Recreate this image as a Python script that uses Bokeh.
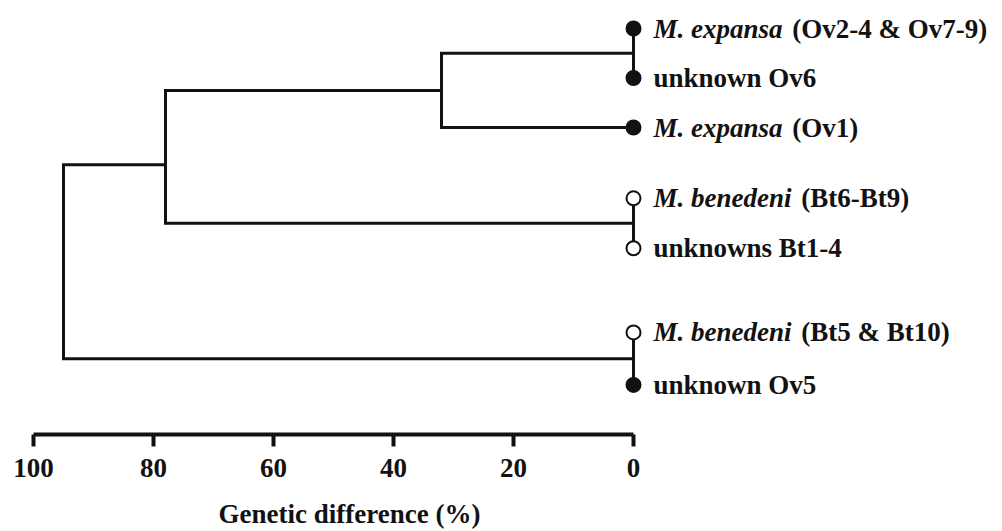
from bokeh.plotting import figure
from bokeh.layouts import column
from bokeh.models import Range1d, FixedTicker, ColumnDataSource
from bokeh.core.properties import value
from bokeh.embed import file_html
from bokeh.resources import INLINE

# ---------------- data ----------------
leaf_species = ["M. expansa", "", "M. expansa", "M. benedeni", "", "M. benedeni", ""]
leaf_detail = ["(Ov2-4 & Ov7-9)", "unknown Ov6", "(Ov1)", "(Bt6-Bt9)",
               "unknowns Bt1-4", "(Bt5 & Bt10)", "unknown Ov5"]
leaf_filled = [True, True, True, False, False, False, True]
# merges: leaves are nodes 0..6, each merge creates node 7, 8, ...
merge_left = [0, 7, 3, 8, 5, 10]
merge_right = [1, 2, 4, 9, 6, 11]
merge_dist = [0, 32, 0, 78, 0, 95]          # genetic difference (%)
tick_values = [100, 80, 60, 40, 20, 0]
axis_title = "Genetic difference (%)"

# ---------------- layout ----------------
leaf_row = [0, 1, 2, 3.43, 4.44, 6.14, 7.2]   # vertical slots of the leaves
node_nudge = {10: 0.16}                       # small vertical shift of a node
W = 1002
H_TREE, H_TITLE = 490, 41
FRAME_H = 434
PX_PER_PCT = 6.0
LEFT_PAD = 33.0
ROW_PX = 49.5
TOP_PAD = 28.0
FONT = "Liberation Serif"
FS = 27
INK = "#121212"

x_start = 100 + LEFT_PAD / PX_PER_PCT
x_end = x_start - W / PX_PER_PCT
y_top = -TOP_PAD / ROW_PX
y_bottom = y_top + FRAME_H / ROW_PX

p = figure(width=W, height=H_TREE, output_backend="svg", toolbar_location=None,
           x_range=Range1d(x_start, x_end), y_range=Range1d(y_bottom, y_top),
           y_axis_location=None, min_border_left=0, min_border_right=0,
           min_border_top=0, min_border_bottom=H_TREE - FRAME_H)
p.grid.visible = False
p.outline_line_color = None
p.background_fill_color = "white"
p.border_fill_color = "white"

# ---------------- tree ----------------
node_x = [0.0] * len(leaf_row)
node_y = list(leaf_row)
xs, ys = [], []
for a, b, d in zip(merge_left, merge_right, merge_dist):
    xs.append([node_x[a], d, d, node_x[b]])
    ys.append([node_y[a], node_y[a], node_y[b], node_y[b]])
    node_x.append(d)
    k = len(node_y)
    node_y.append((node_y[a] + node_y[b]) / 2 + node_nudge.get(k, 0))

p.multi_line(xs=xs, ys=ys, line_width=3, line_color=INK, line_join="miter")

leaf_src = ColumnDataSource(dict(
    x=[0] * len(leaf_row), y=leaf_row,
    fill=[INK if f else "white" for f in leaf_filled],
    sp=leaf_species, de=leaf_detail,
))
p.scatter("x", "y", source=leaf_src, size=14, fill_color="fill",
          line_color=INK, line_width=2)

# widths (1/1000 em) of Times bold-italic glyphs, to place the upright part
BI = {"M": 889, ".": 250, " ": 250, "e": 444, "x": 500, "p": 500, "a": 500,
      "n": 556, "s": 389, "b": 500, "d": 500, "i": 278}
offsets = []
for s in leaf_species:
    if s:
        w = sum(BI.get(c, 500) for c in s) + 250
        offsets.append(20 + w / 1000 * FS + 3)
    else:
        offsets.append(20)
leaf_src.data["off"] = offsets

p.text("x", "y", text="sp", source=leaf_src, x_offset=20,
       text_font=value(FONT), text_font_style="bold italic",
       text_font_size=f"{FS}px", text_baseline="middle", text_color=INK)
p.text("x", "y", text="de", source=leaf_src, x_offset="off",
       text_font=value(FONT), text_font_style="bold",
       text_font_size=f"{FS}px", text_baseline="middle", text_color=INK)

# ---------------- axis ----------------
ax = p.xaxis[0]
ax.ticker = FixedTicker(ticks=tick_values)
ax.bounds = (min(tick_values), max(tick_values))
ax.axis_line_width = 4
ax.axis_line_color = INK
ax.major_tick_line_width = 4
ax.major_tick_line_color = INK
ax.major_tick_in = 0
ax.major_tick_out = 12
ax.minor_tick_line_color = None
ax.major_label_standoff = 12
ax.major_label_text_font = FONT
ax.major_label_text_font_style = "bold"
ax.major_label_text_font_size = f"{FS}px"
ax.major_label_text_color = INK

# ---------------- axis title strip ----------------
pt = figure(width=W, height=H_TITLE, output_backend="svg", toolbar_location=None,
            x_range=p.x_range, y_range=Range1d(0, 1),
            x_axis_location=None, y_axis_location=None, min_border=0)
pt.grid.visible = False
pt.outline_line_color = None
pt.background_fill_color = "white"
pt.border_fill_color = "white"
TITLE_CENTER_PX = 23          # from the top of the strip
pt.text(x=[(min(tick_values) + max(tick_values)) / 2],
        y=[1 - TITLE_CENTER_PX / H_TITLE],
        text=[axis_title], x_offset=16,
        text_font=value(FONT), text_font_style="bold",
        text_font_size=f"{FS}px", text_align="center",
        text_baseline="middle", text_color=INK)

layout = column(p, pt, spacing=0)
open("out.html", "w").write(file_html(layout, INLINE))
